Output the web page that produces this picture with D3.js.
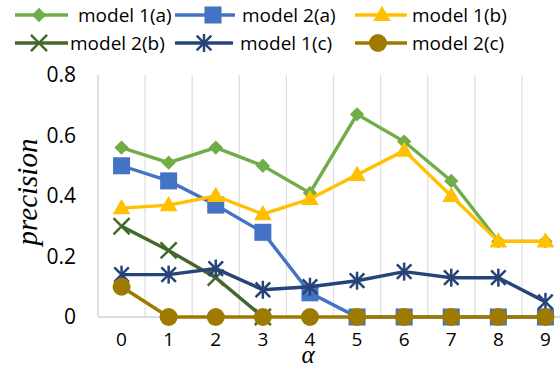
<!DOCTYPE html>
<html lang="en">
<head>
    <meta charset="UTF-8">
    <script src="https://cdnjs.cloudflare.com/ajax/libs/d3/7.8.5/d3.min.js"></script>
    <style>
        body { margin: 0; background: #fff; }
        text { font-family: "Open Sans", "Liberation Sans", sans-serif; }
    </style>
</head>
<body>
    <svg id="chart" width="560" height="369"></svg>
    <script>
        let alphas = ["0", "1", "2", "3", "4", "5", "6", "7", "8", "9"];
        let yTicks = [0, 0.2, 0.4, 0.6, 0.8];

        let model1a = [0.56, 0.51, 0.56, 0.50, 0.41, 0.67, 0.58, 0.45, 0.25, 0.25];
        let model2a = [0.50, 0.45, 0.37, 0.28, 0.08, 0, 0, 0, 0, 0];
        let model1b = [0.36, 0.37, 0.40, 0.34, 0.39, 0.47, 0.55, 0.40, 0.25, 0.25];
        let model2b = [0.30, 0.22, 0.13, 0, null, null, null, null, null, null];
        let model1c = [0.14, 0.14, 0.16, 0.09, 0.10, 0.12, 0.15, 0.13, 0.13, 0.05];
        let model2c = [0.10, 0, 0, 0, 0, 0, 0, 0, 0, 0];

        let seriesNames = ["model 1(a)", "model 2(a)", "model 1(b)", "model 2(b)", "model 1(c)", "model 2(c)"];
        let seriesValues = [model1a, model2a, model1b, model2b, model1c, model2c];
        let colors = ["#70AD47", "#4472C4", "#FFC000", "#43682B", "#264478", "#9E7A00"];
        let shapes = ["diamond", "square", "triangle", "cross", "star", "circle"];

        let svg = d3.select("#chart");
        let plotLeft = 98, bandW = 47.1, plotBottom = 317, plotTop = 75;

        let xScale = d3.scaleBand().domain(alphas).range([plotLeft, plotLeft + bandW * alphas.length]);
        let yScale = d3.scaleLinear().domain([0, 0.8]).range([plotBottom, plotTop]);

        // vertical gridlines at band edges
        svg.append("g")
            .selectAll("line")
            .data(alphas)
            .enter()
            .append("line")
            .attr("x1", d => xScale(d))
            .attr("x2", d => xScale(d))
            .attr("y1", plotTop)
            .attr("y2", plotBottom)
            .attr("stroke", d => d === "0" ? "#d0d0d0" : "#e0e0e0")
            .attr("stroke-width", 1.3);

        svg.append("line")
            .attr("x1", plotLeft).attr("x2", 560)
            .attr("y1", plotBottom).attr("y2", plotBottom)
            .attr("stroke", "#d0d0d0").attr("stroke-width", 1.5);

        let yAxis = d3.axisLeft(yScale).tickValues(yTicks).tickSize(0).tickPadding(22)
            .tickFormat(d => d === 0 ? "0" : d3.format(".1f")(d));
        let yG = svg.append("g").attr("transform", `translate(${plotLeft},0)`).call(yAxis);
        yG.select(".domain").remove();
        yG.selectAll("text").attr("font-size", 21).attr("fill", "#000")
            .style("font-family", "'Open Sans', sans-serif");

        let xAxis = d3.axisBottom(xScale).tickSize(0).tickPadding(16);
        let xG = svg.append("g").attr("transform", `translate(0,${plotBottom})`).call(xAxis);
        xG.select(".domain").remove();
        xG.selectAll("text").attr("font-size", 19).attr("fill", "#000")
            .style("font-family", "'Open Sans', sans-serif");

        // axis titles
        svg.append("text")
            .attr("transform", "translate(37,192) rotate(-90)")
            .attr("text-anchor", "middle")
            .style("font-family", "'Liberation Serif', serif")
            .style("font-style", "italic")
            .attr("font-size", 29)
            .text("precision");
        svg.append("text")
            .attr("x", 308).attr("y", 363)
            .attr("text-anchor", "middle")
            .style("font-family", "'Liberation Serif', serif")
            .style("font-style", "italic")
            .attr("font-size", 25)
            .text("α");

        function drawMarker(g, shape, color, x, y) {
            if (shape === "diamond") {
                g.append("path").attr("d", d3.symbol(d3.symbolDiamond2, 130)())
                    .attr("transform", `translate(${x},${y})`).attr("fill", color);
            } else if (shape === "square") {
                g.append("path").attr("d", d3.symbol(d3.symbolSquare, 290)())
                    .attr("transform", `translate(${x},${y})`).attr("fill", color);
            } else if (shape === "triangle") {
                g.append("path").attr("d", d3.symbol(d3.symbolTriangle, 135)())
                    .attr("transform", `translate(${x},${y + 1})`).attr("fill", color);
            } else if (shape === "circle") {
                g.append("circle").attr("cx", x).attr("cy", y).attr("r", 9).attr("fill", color);
            } else if (shape === "cross") {
                g.append("path").attr("d", d3.symbol(d3.symbolX, 170)())
                    .attr("transform", `translate(${x},${y})`)
                    .attr("fill", "none").attr("stroke", color).attr("stroke-width", 2.5);
            } else if (shape === "star") {
                g.append("path").attr("d", d3.symbol(d3.symbolX, 140)())
                    .attr("transform", `translate(${x},${y})`)
                    .attr("fill", "none").attr("stroke", color).attr("stroke-width", 2.5);
                g.append("line").attr("x1", x).attr("x2", x).attr("y1", y - 9).attr("y2", y + 9)
                    .attr("stroke", color).attr("stroke-width", 2.5);
            }
        }

        let line = d3.line()
            .defined(d => d.v !== null)
            .x(d => xScale(d.a) + xScale.bandwidth() / 2)
            .y(d => yScale(d.v));

        seriesValues.forEach((vals, i) => {
            let pts = vals.map((v, j) => ({a: alphas[j], v: v}));
            let g = svg.append("g");
            g.append("path")
                .datum(pts)
                .attr("d", line)
                .attr("fill", "none")
                .attr("stroke", colors[i])
                .attr("stroke-width", 3.4);
            pts.filter(p => p.v !== null).forEach(p => {
                drawMarker(g, shapes[i], colors[i], xScale(p.a) + xScale.bandwidth() / 2, yScale(p.v));
            });
        });

        // legend
        let legendLines = [
            {x1: 15, x2: 68, m: 39, y: 15}, {x1: 175, x2: 235, m: 213, y: 15}, {x1: 355, x2: 407, m: 382, y: 15},
            {x1: 15, x2: 68, m: 39, y: 43}, {x1: 175, x2: 233, m: 204, y: 43}, {x1: 355, x2: 407, m: 378, y: 43}
        ];
        let legendTextX = [78, 242, 412, 70, 240, 412];
        seriesNames.forEach((name, i) => {
            let p = legendLines[i];
            let g = svg.append("g");
            g.append("line").attr("x1", p.x1).attr("x2", p.x2)
                .attr("y1", p.y).attr("y2", p.y)
                .attr("stroke", colors[i]).attr("stroke-width", 3.4);
            drawMarker(g, shapes[i], colors[i], p.m, p.y);
            g.append("text")
                .attr("x", legendTextX[i])
                .attr("y", p.y + 7)
                .attr("font-size", 19)
                .attr("fill", "#000")
                .style("font-family", "'Open Sans', sans-serif")
                .text(name);
        });
    </script>
</body>
</html>
